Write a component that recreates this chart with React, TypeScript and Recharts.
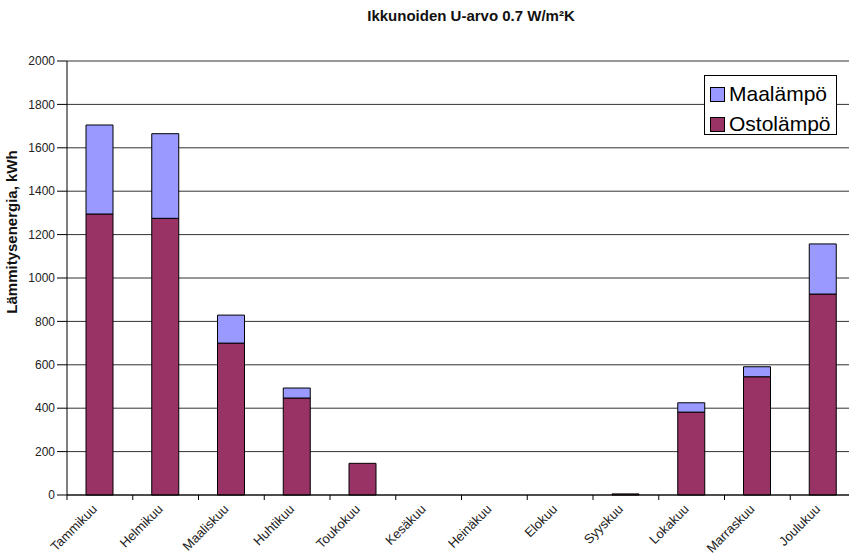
import React from 'react';
import { BarChart, Bar, XAxis, YAxis, CartesianGrid, Legend } from 'recharts';

// Monthly heating energy, kWh
const months = [
  'Tammikuu', 'Helmikuu', 'Maaliskuu', 'Huhtikuu', 'Toukokuu', 'Kesäkuu',
  'Heinäkuu', 'Elokuu', 'Syyskuu', 'Lokakuu', 'Marraskuu', 'Joulukuu',
];
const ostolampo = [1295, 1275, 700, 447, 146, 0, 0, 0, 5, 382, 545, 926];
const maalampo = [410, 390, 129, 46, 0, 0, 0, 0, 0, 43, 46, 231];
const yTicks = [0, 200, 400, 600, 800, 1000, 1200, 1400, 1600, 1800, 2000];
const legendOrder = ['Maalämpö', 'Ostolämpö'];

const data = months.map((month, i) => ({
  month,
  osto: ostolampo[i],
  maala: maalampo[i],
}));

const FONT = '"Liberation Sans", Arial, Helvetica, sans-serif';
const OSTO_COLOR = '#993366';
const MAALA_COLOR = '#9999FF';

// Category tick: tick mark on the band boundary, label rotated under the band
function MonthTick(props: any) {
  const { x, y, payload } = props;
  const half = payload && typeof payload.offset === 'number' ? payload.offset : 0;
  const lx = x - 2;
  const ly = y + 15;
  return (
    <g>
      <line x1={x - half} x2={x - half} y1={y} y2={y + 5} stroke="#000" strokeWidth={1} />
      <text
        x={lx}
        y={ly}
        textAnchor="end"
        transform={`rotate(-45 ${lx} ${ly})`}
        fontSize={13}
        fontFamily={FONT}
        fill="#222"
      >
        {payload.value}
      </text>
    </g>
  );
}

function YTitle() {
  return (
    <text
      x={17}
      y={232}
      textAnchor="middle"
      transform="rotate(-90 17 232)"
      fontSize={15}
      fontWeight="bold"
      fontFamily={FONT}
      fill="#111"
    >
      Lämmitysenergia, kWh
    </text>
  );
}

function LegendBox(props: any) {
  const items = [...(props.payload ?? [])].sort(
    (a: any, b: any) => legendOrder.indexOf(a.value) - legendOrder.indexOf(b.value)
  );
  return (
    <div
      style={{
        width: 133,
        height: 60,
        boxSizing: 'border-box',
        border: '1px solid #000',
        background: '#fff',
        paddingTop: 3,
        paddingLeft: 5,
      }}
    >
      {items.map((it: any) => (
        <div key={it.value} style={{ display: 'flex', alignItems: 'center', height: 30 }}>
          <span
            style={{
              display: 'inline-block',
              width: 13,
              height: 13,
              background: it.color,
              border: '1px solid #000',
              marginRight: 4,
            }}
          />
          <span style={{ fontSize: 21, fontFamily: FONT, color: '#000', lineHeight: '30px' }}>
            {it.value}
          </span>
        </div>
      ))}
    </div>
  );
}

export default function App() {
  return (
    <div
      style={{
        position: 'absolute',
        left: 0,
        top: 0,
        width: 849,
        height: 560,
        overflow: 'hidden',
        background: '#fff',
      }}
    >
      <div
        style={{
          position: 'absolute',
          left: 271,
          top: 8,
          width: 400,
          textAlign: 'center',
          fontFamily: FONT,
          fontWeight: 'bold',
          fontSize: 15,
          lineHeight: '15px',
          color: '#111',
          zIndex: 2,
        }}
      >
        Ikkunoiden U-arvo 0.7 W/m²K
      </div>
      <BarChart
        width={870}
        height={560}
        data={data}
        margin={{ top: 61, right: 14, bottom: 0, left: 0 }}
        style={{ fontFamily: FONT }}
      >
        <CartesianGrid vertical={false} stroke="#333" strokeWidth={1} />
        <XAxis
          dataKey="month"
          height={65}
          interval={0}
          tickLine={false}
          tickSize={0}
          tickMargin={0}
          axisLine={{ stroke: '#000' }}
          tick={<MonthTick />}
        />
        <YAxis
          width={67}
          domain={[0, 2000]}
          ticks={yTicks}
          interval={0}
          tickSize={10}
          tickMargin={2}
          axisLine={{ stroke: '#000' }}
          tickLine={{ stroke: '#000' }}
          tick={{ fontSize: 12, fill: '#222', fontFamily: FONT }}
          label={<YTitle />}
        />
        <Legend
          layout="horizontal"
          verticalAlign="middle"
          align="center"
          wrapperStyle={{ left: 704, top: 75, width: 133, height: 60 }}
          content={<LegendBox />}
        />
        <Bar
          dataKey="osto"
          name="Ostolämpö"
          stackId="a"
          fill={OSTO_COLOR}
          stroke="#000"
          strokeWidth={1}
          barSize={27}
          isAnimationActive={false}
        />
        <Bar
          dataKey="maala"
          name="Maalämpö"
          stackId="a"
          fill={MAALA_COLOR}
          stroke="#000"
          strokeWidth={1}
          barSize={27}
          isAnimationActive={false}
        />
      </BarChart>
    </div>
  );
}
